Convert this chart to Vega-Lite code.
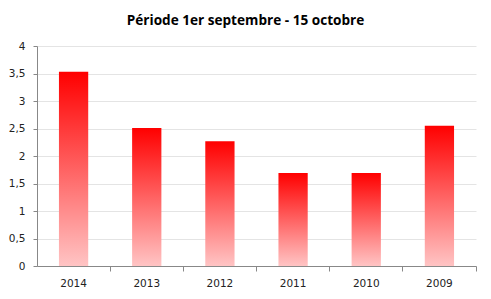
{
  "$schema": "https://vega.github.io/schema/vega-lite/v6.json",
  "width": 439,
  "height": 220,
  "autosize": {"type": "none"},
  "padding": {"left": 37, "top": 46, "right": 15, "bottom": 33},
  "background": "white",
  "title": {
    "text": "Période 1er septembre - 15 octobre",
    "font": "Open Sans",
    "fontSize": 13.6,
    "fontWeight": "bold",
    "color": "#000000",
    "anchor": "middle",
    "dx": -11,
    "offset": 13
  },
  "config": {
    "view": {"stroke": null},
    "axis": {"labelFont": "DejaVu Sans", "labelFontSize": 10.5, "labelColor": "#222222"}
  },
  "data": {
    "values": [
      {"annee": "2014", "valeur": 3.53},
      {"annee": "2013", "valeur": 2.51},
      {"annee": "2012", "valeur": 2.27},
      {"annee": "2011", "valeur": 1.69},
      {"annee": "2010", "valeur": 1.69},
      {"annee": "2009", "valeur": 2.55}
    ]
  },
  "mark": {
    "type": "bar",
    "width": {"band": 0.4},
    "color": {
      "gradient": "linear",
      "x1": 0, "y1": 0, "x2": 0, "y2": 1,
      "stops": [
        {"offset": 0, "color": "#ff0000"},
        {"offset": 1, "color": "#ffc4c4"}
      ]
    }
  },
  "encoding": {
    "x": {
      "field": "annee",
      "type": "nominal",
      "sort": null,
      "scale": {"paddingInner": 0, "paddingOuter": 0},
      "axis": {
        "title": null,
        "labelAngle": 0,
        "bandPosition": 1,
        "labelOverlap": false,
        "domainColor": "#888888",
        "tickColor": "#888888",
        "tickSize": 5,
        "labelPadding": 7,
        "grid": false
      }
    },
    "y": {
      "field": "valeur",
      "type": "quantitative",
      "scale": {"domain": [0, 4], "nice": false},
      "axis": {
        "title": null,
        "values": [0, 0.5, 1, 1.5, 2, 2.5, 3, 3.5, 4],
        "labelExpr": "replace(format(datum.value, '~g'), '.', ',')",
        "domainColor": "#888888",
        "tickColor": "#888888",
        "tickSize": 4,
        "labelPadding": 8,
        "gridColor": "#e4e4e4"
      }
    }
  }
}
